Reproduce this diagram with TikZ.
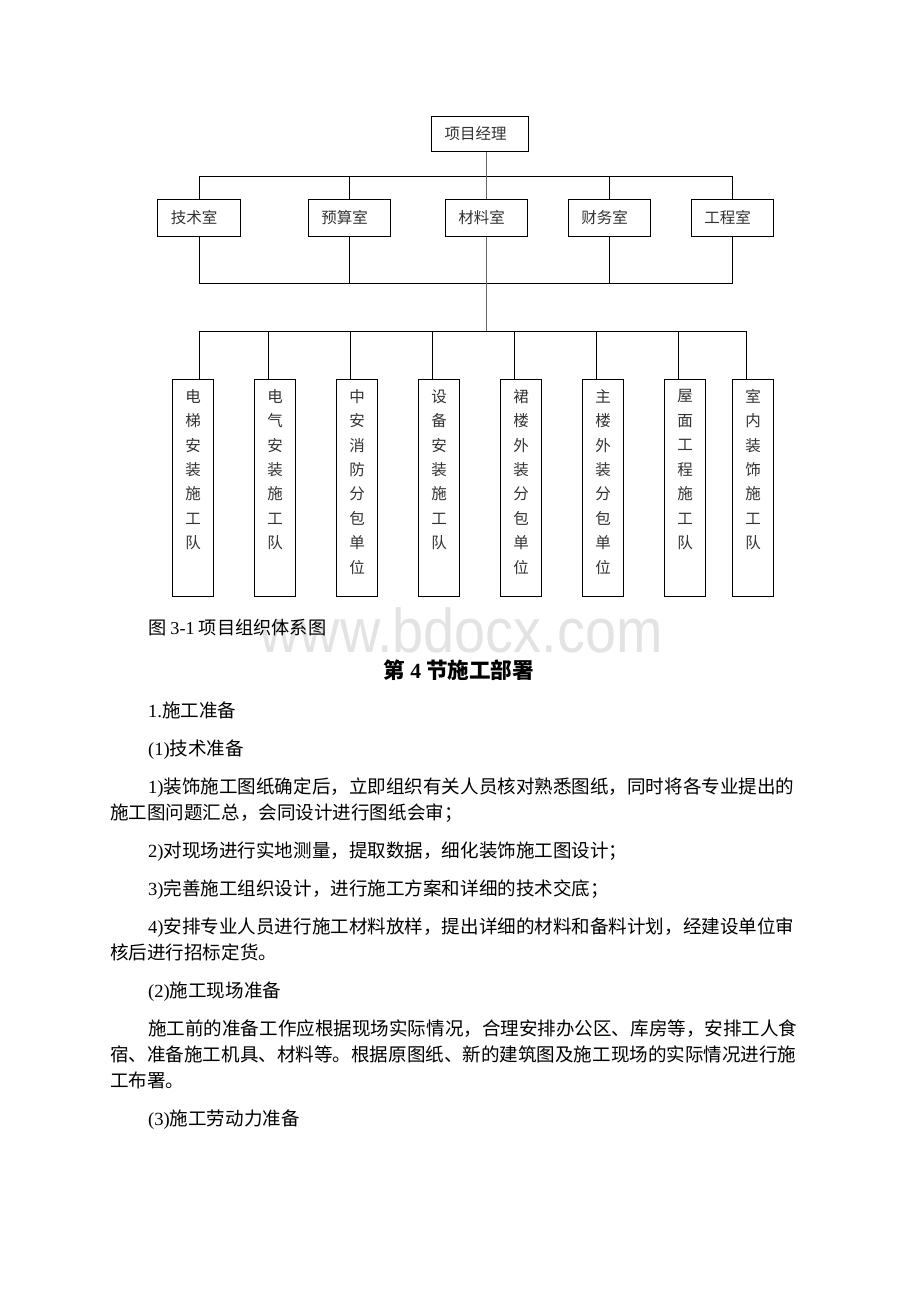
\documentclass[tikz,border=0pt]{standalone}
\usepackage{fontspec}
\setmainfont{Liberation Serif}
\newfontfamily\cjk{Noto Sans CJK SC}
\newfontfamily\lat{Liberation Serif}
\newfontfamily\wmfont{Liberation Sans}
\usetikzlibrary{calc}
\XeTeXinterchartokenstate=1
\XeTeXinterchartoks 1 1 = {\hskip 0pt plus 1pt minus 0.1pt}
\XeTeXinterchartoks 1 3 = {\hskip 0pt plus 1pt minus 0.1pt}
\XeTeXinterchartoks 3 1 = {\hskip 0pt plus 1pt minus 0.1pt}
\XeTeXinterchartoks 3 3 = {\hskip 0pt plus 1pt minus 0.1pt}
\XeTeXinterchartoks 0 1 = {\hskip 0pt plus 1pt minus 0.1pt}
\XeTeXinterchartoks 1 0 = {\hskip 0pt plus 1pt minus 0.1pt}
\XeTeXinterchartoks 0 3 = {\hskip 0pt plus 1pt minus 0.1pt}
\XeTeXinterchartoks 3 0 = {\hskip 0pt plus 1pt minus 0.1pt}
\tikzset{
  box/.style={draw=black, line width=1.1pt, inner sep=0pt,
    font=\cjk\fontsize{15.5}{18}\selectfont, text=black!80},
  ln/.style={line width=0.9pt, black},
  ctr/.style={line width=1.5pt, black!60},
  ch/.style={inner sep=0pt, font=\cjk\fontsize{15.5}{18}\selectfont, text=black!80},
  body/.style={inner sep=0pt, anchor=base west, font=\cjk\fontsize{18.55}{22}\selectfont, text=black},
}
\begin{document}
\begin{tikzpicture}[x=1pt, y=-1pt]
\useasboundingbox (0,0) rectangle (920,1302);
\fill[white] (0,0) rectangle (920,1302);

% watermark
\node[font=\wmfont\fontsize{62}{62}\selectfont, text=black!11, xscale=0.9, anchor=base, inner sep=0pt] (wmk) at (461,652) {www.bdocx.com};

% top
\node[box, minimum width=97pt, minimum height=35pt] (P) at (480,134) {项目经理\kern9pt};

% row 2
\node[box, minimum width=83pt, minimum height=37pt] (A1) at (199,218) {技术室\kern10pt};
\node[box, minimum width=82pt, minimum height=37pt] (A2) at (349.5,218) {预算室\kern10pt};
\node[box, minimum width=82pt, minimum height=37pt] (A3) at (486.5,218) {材料室\kern10pt};
\node[box, minimum width=82pt, minimum height=37pt] (A4) at (609.5,218) {财务室\kern10pt};
\node[box, minimum width=82pt, minimum height=37pt] (A5) at (732.5,218) {工程室\kern10pt};

% row 3 boxes
\foreach \n/\cx in {B1/193, B2/275, B3/357, B4/439, B5/521, B6/603, B7/685, B8/753}
  \node[box, minimum width=41pt, minimum height=217pt] (\n) at (\cx,488) {};

% row 3 texts
\foreach \n/\txt in {B1/{电,梯,安,装,施,工,队}, B2/{电,气,安,装,施,工,队},
    B3/{中,安,消,防,分,包,单,位}, B4/{设,备,安,装,施,工,队},
    B5/{裙,楼,外,装,分,包,单,位}, B6/{主,楼,外,装,分,包,单,位},
    B7/{屋,面,工,程,施,工,队}, B8/{室,内,装,饰,施,工,队}} {
  \foreach \c [count=\i] in \txt
    \node[ch] (\n c\i) at ($(\n.north)+(0,{17.5+24.4*(\i-1)})$) {\c};
}

% connectors
\coordinate (busA) at (199,176);
\coordinate (busB) at (199,283);
\coordinate (busC) at (199,331);
\coordinate (busCe) at (746,331);

\draw[ln] (A1.north |- busA) -- (A5.north |- busA);
\foreach \a in {A1,A2,A4,A5} \draw[ln] (\a.north |- busA) -- (\a.north);
\draw[ctr] (P.south -| A3.north) -- (A3.north);

\foreach \a in {A1,A2,A4,A5} \draw[ln] (\a.south) -- (\a.south |- busB);
\draw[ln] (A1.south |- busB) -- (A5.south |- busB);
\draw[ctr] (A3.south) -- (A3.south |- busC);

\draw[ln] (busC) -- (busCe);
\foreach \b/\o in {B1/6, B2/-7, B3/-7, B4/-7, B5/-7, B6/-7, B7/-7, B8/-7}
  \draw[ln] ([xshift=\o pt]\b.north |- busC) -- ([xshift=\o pt]\b.north);

% caption and heading
\node[inner sep=0pt, anchor=base west, font=\cjk\fontsize{18.2}{22}\selectfont] (cap) at (148,634) {图 {\lat 3-1} 项目组织体系图};
\node[inner sep=0pt, anchor=base, font=\cjk\bfseries\fontsize{21.6}{24}\selectfont] (head) at (459,678) {第 {\lat\bfseries 4} 节施工部署};

% body text
\node[body] (t1) at (148,717) {{\lat 1.}施工准备};
\node[body] (t2) at (148,755) {{\lat (1)}技术准备};
\node[body] (t3) at (148,793) {\makebox[645pt][s]{{\lat 1)}装饰施工图纸确定后，立即组织有关人员核对熟悉图纸，同时将各专业提出的}};
\node[body] (t4) at (110,819) {施工图问题汇总，会同设计进行图纸会审；};
\node[body] (t5) at (148,857) {{\lat 2)}对现场进行实地测量，提取数据，细化装饰施工图设计；};
\node[body] (t6) at (148,895) {{\lat 3)}完善施工组织设计，进行施工方案和详细的技术交底；};
\node[body] (t7) at (148,933) {\makebox[645pt][s]{{\lat 4)}安排专业人员进行施工材料放样，提出详细的材料和备料计划，经建设单位审}};
\node[body] (t8) at (110,959) {核后进行招标定货。};
\node[body] (t9) at (148,997) {{\lat (2)}施工现场准备};
\node[body] (t10) at (148,1035) {\makebox[645pt][s]{施工前的准备工作应根据现场实际情况，合理安排办公区、库房等，安排工人食}};
\node[body] (t11) at (110,1061) {\makebox[683pt][s]{宿、准备施工机具、材料等。根据原图纸、新的建筑图及施工现场的实际情况进行施}};
\node[body] (t12) at (110,1087) {工布署。};
\node[body] (t13) at (148,1125) {{\lat (3)}施工劳动力准备};
\end{tikzpicture}
\end{document}
